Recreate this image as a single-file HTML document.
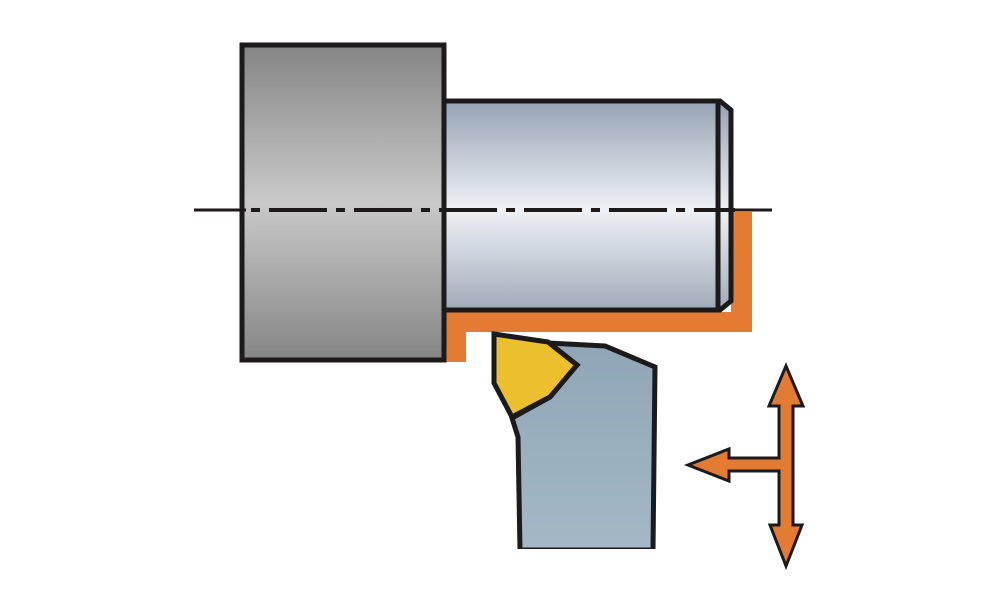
<!DOCTYPE html>
<html><head><style>html,body{margin:0;padding:0;background:#fff;}svg{display:block}</style></head>
<body>
<svg width="1000" height="611" viewBox="0 0 1000 611" xmlns="http://www.w3.org/2000/svg">
<defs>
<linearGradient id="g1" x1="0" y1="0" x2="0" y2="1">
<stop offset="0" stop-color="#858585"/><stop offset="0.5" stop-color="#c9c9c9"/><stop offset="1" stop-color="#858585"/>
</linearGradient>
<linearGradient id="g2" x1="0" y1="0" x2="0" y2="1">
<stop offset="0" stop-color="#95a2b4"/><stop offset="0.52" stop-color="#eef1f5"/><stop offset="1" stop-color="#a0abba"/>
</linearGradient>
<linearGradient id="g3" x1="0" y1="0" x2="0" y2="1">
<stop offset="0" stop-color="#8fa6b6"/><stop offset="1" stop-color="#a4b8c6"/>
</linearGradient>
</defs>
<path d="M445,312 L731,312 L731,212 L752,212 L752,332 L466,332 L466,362 L445,362 Z" fill="#e47b33"/>
<rect x="242" y="45" width="202" height="315" fill="url(#g1)" stroke="#1c1a1a" stroke-width="5"/>
<path d="M444,101 L720,101 L731,110 L731,301 L720,310 L444,310 Z" fill="url(#g2)" stroke="#1c1a1a" stroke-width="5" stroke-linejoin="miter"/>
<line x1="718" y1="101" x2="718" y2="310" stroke="#1c1a1a" stroke-width="5"/>
<line x1="194" y1="210" x2="246" y2="210" stroke="#1c1a1a" stroke-width="3"/>
<line x1="246" y1="210" x2="735" y2="210" stroke="#1c1a1a" stroke-width="4" stroke-dasharray="9 9 58 9" stroke-dashoffset="-5"/>
<line x1="728" y1="210" x2="772" y2="210" stroke="#1c1a1a" stroke-width="3"/>
<path d="M548,343 L605,346 L655,367 L653,550 L520,550 L518,437 L512,418 L550,397 L577,365 Z" fill="url(#g3)" stroke="#1c1a1a" stroke-width="5" stroke-linejoin="miter"/>
<rect x="517" y="549" width="140" height="6" fill="#fff"/>
<path d="M494,334 L548,342 L577,365 L550,397 L512,417 L494,383 Z" fill="#ecbf2e" stroke="#1c1a1a" stroke-width="5" stroke-linejoin="miter"/>
<path d="M786,366 L769,406 L779,406 L779,458 L729,458 L729,449 L688,465 L729,481 L729,471 L779,471 L779,525 L770,525 L786,566 L802,525 L793,525 L793,406 L803,406 Z" fill="#e47b33" stroke="#1c1a1a" stroke-width="3" stroke-linejoin="miter"/>
</svg>
</body></html>
